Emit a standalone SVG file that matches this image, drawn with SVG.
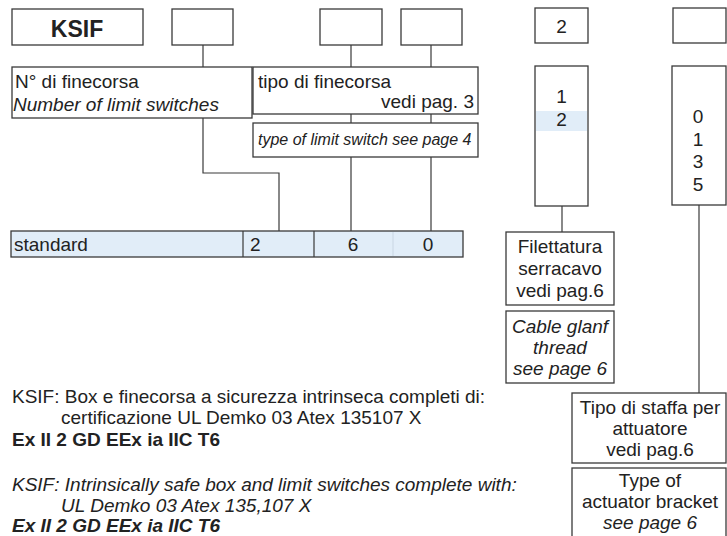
<svg xmlns="http://www.w3.org/2000/svg" width="727" height="536" viewBox="0 0 727 536">
<style>
.b{fill:#fff;stroke:#3a3a3a;stroke-width:1.3}
.bar{fill:#e1edf8;stroke:#3a3a3a;stroke-width:1.3}
.hl{fill:#e1edf8}
.c{fill:none;stroke:#3a3a3a;stroke-width:1.2}
text{font-family:"Liberation Sans",Arial,sans-serif;font-size:19px;fill:#222}
.i{font-style:italic}
.bo{font-weight:bold}
.m{text-anchor:middle}
.e{text-anchor:end}
</style>
<rect width="727" height="536" fill="#fff"/>
<g id="connectors">
<path class="c" d="M203 45V67M203 118V173H279V231"/>
<path class="c" d="M351 45V67M351 114V123M351 157V231"/>
<path class="c" d="M431 45V67M431 114V123M431 157V231"/>
<path class="c" d="M562 206V232"/>
<path class="c" d="M699 205V393"/>
</g>
<g id="ksif"><rect class="b" x="12" y="9" width="131" height="36"/><text class="bo m" x="77" y="37" style="font-size:23px">KSIF</text></g>
<g id="box-n"><rect class="b" x="172" y="9" width="61" height="36"/></g>
<g id="box-t1"><rect class="b" x="320" y="9" width="62" height="36"/></g>
<g id="box-t2"><rect class="b" x="401" y="9" width="61" height="36"/></g>
<g id="box-thread"><rect class="b" x="535" y="8" width="53" height="35"/><text class="m" x="561.5" y="33">2</text></g>
<g id="box-bracket"><rect class="b" x="673" y="8" width="53" height="35"/></g>
<g id="n-finecorsa"><rect class="b" x="12" y="67" width="240" height="51"/><text x="15" y="88">N° di finecorsa</text><text class="i" x="13" y="111">Number of limit switches</text></g>
<g id="tipo"><rect class="b" x="253" y="67" width="225" height="47"/><text x="258" y="88">tipo di finecorsa</text><text class="e" x="474" y="108">vedi pag. 3</text></g>
<g id="type"><rect class="b" x="253" y="123" width="225" height="34"/><text class="i" x="258" y="145" style="font-size:16px">type of limit switch see page 4</text></g>
<g id="thread-options"><rect class="b" x="535" y="66" width="53" height="140"/><rect class="hl" x="536" y="111" width="51" height="20"/><text class="m" x="561.5" y="103">1</text><text class="m" x="561.5" y="126">2</text></g>
<g id="bracket-options"><rect class="b" x="672" y="66" width="54" height="139"/><text class="m" x="698" y="123">0</text><text class="m" x="698" y="146">1</text><text class="m" x="698" y="168">3</text><text class="m" x="698" y="191">5</text></g>
<g id="standard"><rect class="bar" x="11" y="231" width="452" height="26"/><line x1="393" y1="232" x2="393" y2="256" stroke="#c9d6e3" stroke-width="1"/><path class="c" d="M243 231V257M314 231V257"/><text x="14" y="251">standard</text><text x="250" y="251">2</text><text class="m" x="353" y="251">6</text><text class="m" x="428" y="251">0</text></g>
<g id="filettatura"><rect class="b" x="506" y="232" width="108" height="73"/><text class="m" x="560" y="253">Filettatura</text><text class="m" x="560" y="275">serracavo</text><text class="m" x="560" y="297">vedi pag.6</text></g>
<g id="cable"><rect class="b" x="506" y="311" width="108" height="72"/><text class="m i" x="560" y="333">Cable glanf</text><text class="m i" x="560" y="354">thread</text><text class="m i" x="560" y="375">see page 6</text></g>
<g id="staffa"><rect class="b" x="572" y="393" width="154" height="70"/><text class="m" x="650" y="414">Tipo di staffa per</text><text class="m" x="650" y="435">attuatore</text><text class="m" x="650" y="456">vedi pag.6</text></g>
<g id="bracket"><rect class="b" x="572" y="468" width="154" height="70"/><text class="m" x="650" y="487">Type of</text><text class="m" x="650" y="508">actuator bracket</text><text class="m i" x="650" y="529">see page 6</text></g>
<g id="notes">
<text x="12" y="403">KSIF: Box e finecorsa a sicurezza intrinseca completi di:</text>
<text x="61" y="424">certificazione UL Demko 03 Atex 135107 X</text>
<text class="bo" x="12" y="446">Ex II 2 GD EEx ia IIC T6</text>
<text class="i" x="12" y="491">KSIF: Intrinsically safe box and limit switches complete with:</text>
<text class="i" x="61" y="512">UL Demko 03 Atex 135,107 X</text>
<text class="i bo" x="12" y="532">Ex II 2 GD EEx ia IIC T6</text>
</g>
</svg>
